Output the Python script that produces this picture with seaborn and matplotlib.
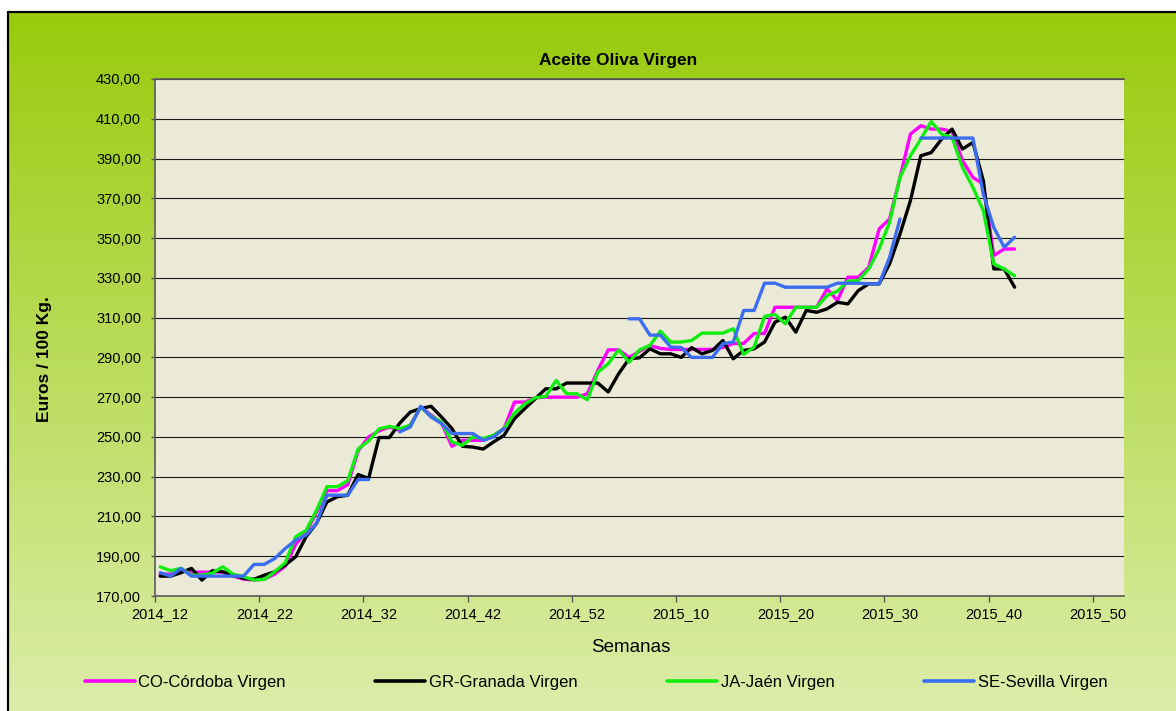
import numpy as np
import pandas as pd
import seaborn as sns
import matplotlib.pyplot as plt
from matplotlib.lines import Line2D

# --- datos ---
# semanas del eje de categorias: 2014_12 ... 2015_52
SEMANAS = [f"2014_{s}" for s in range(12, 53)] + [f"2015_{s:02d}" for s in range(1, 53)]
ETIQUETAS = ["2014_12", "2014_22", "2014_32", "2014_42", "2014_52",
             "2015_10", "2015_20", "2015_30", "2015_40", "2015_50"]

NOMBRES = ["CO-Córdoba Virgen", "GR-Granada Virgen", "JA-Jaén Virgen", "SE-Sevilla Virgen"]
COLORES = ["#FF00FF", "#000000", "#10EE10", "#3A6DF0"]

nan = np.nan

cordoba = [181, 181, 183, 182, 182, 182, 182, 180, 178.5, 178,
           178.5, 181, 185, 196, 202, 212, 223, 223, 226, 243,
           250, 253, 255, 253.3, 256, 265, 261, 257, 245.3, 248.3,
           248.3, 248.3, 250.8, 254.2, 267.5, 267.5, 269.7, 270, 270, 270,
           270, 271.7, 283.5, 293.8, 293.8, 290, 293, 296, 294.5, 294,
           294, 294, 294, 294, 295, 297, 297, 302, 302, 315.2,
           315.2, 315.2, 315.2, 315.2, 324.5, 318.6, 330.3, 330.3, 335.3, 354.6,
           359.6, 380.5, 402.3, 406.5, 404.8, 404.8, 403.6, 388.9, 380.5, 377.2,
           341.2, 344.5, 344.5]

granada = [180, 180, 181.7, 183.9, 178, 182.7, 182.2, 180.5, 178.9, 178.4,
           180.5, 182.2, 185.6, 189.7, 199.8, 206.5, 217.3, 219.9, 220.7, 231.1,
           229.1, 249.7, 249.7, 257, 262.5, 264.3, 265.4, 260, 254.2, 245.3,
           244.9, 243.9, 247.5, 250.8, 259.2, 264.3, 269.2, 274.2, 274.2, 277.1,
           277.1, 277.1, 277.1, 272.6, 281.8, 289.3, 289.8, 294.3, 291.8, 291.8,
           290, 294.9, 291.8, 293.5, 298.5, 289.3, 293.5, 294.3, 297.7, 307.7,
           310.2, 302.7, 313.6, 312.7, 314.4, 317.7, 316.9, 323.6, 327, 327,
           337, 352, 368.8, 391.4, 393, 399.8, 404.8, 394.8, 398.1, 378.8,
           334.5, 334.5, 325.3]

jaen = [184.7, 182.7, 183.9, 180.5, 180.5, 181.5, 184.7, 181, 179.7, 178,
        178.4, 182.2, 186.7, 199.8, 203, 213, 225, 225, 228, 244,
        248, 254, 255.3, 254.2, 255.8, 265, 260.4, 257.5, 247.5, 245.8,
        250, 249.2, 250.8, 254.2, 262, 266.7, 269.7, 270.4, 278.4, 271.7,
        271.7, 268.7, 282.6, 286.8, 293.8, 287.6, 293.8, 296, 303.2, 297.7,
        297.7, 298.5, 302.2, 302.2, 302.2, 304.4, 291.5, 295.2, 310.6, 311.6,
        306.9, 315.2, 315.2, 315.2, 321.1, 323.3, 328.3, 328.6, 334.5, 344.5,
        357.9, 380.5, 391.4, 399.8, 408.6, 402.3, 400.6, 385.5, 375.5, 363.8,
        337, 334.5, 331]

sevilla = [181.7, 180, 183.9, 180, 180, 180, 180, 180, 180, 185.9,
           185.9, 188.9, 193.9, 198.1, 200.6, 206.5, 220.7, 220.7, 220.7, 228.6,
           228.6, nan, nan, 252.5, 255, 265.4, 260, 256.7, 251.7, 251.7,
           251.7, 248.3, 250, 254.2, nan, nan, nan, nan, nan, nan,
           nan, nan, nan, nan, nan, 309.4, 309.4, 301.2, 301.2, 295.2,
           295, 290, 290, 290, 296.9, 297.7, 313.6, 313.6, 327.3, 327.3,
           325.3, 325.3, 325.3, 325.3, 325.3, 327.3, 327.3, 327.3, 327, 327,
           340.3, 359.6, nan, 400.3, 400.3, 400.3, 400.3, 400.3, 400.3, 372,
           355.4, 345.4, 350.4]

# --- tabla larga, cortando las series donde faltan semanas ---
filas = []
for nombre, valores in zip(NOMBRES, [cordoba, granada, jaen, sevilla]):
    tramo = 0
    for i, v in enumerate(valores):
        if np.isnan(v):
            tramo += 1
            continue
        filas.append({"pos": i, "semana": SEMANAS[i], "valor": v, "serie": nombre, "tramo": tramo})
df = pd.DataFrame(filas)

# --- figura ---
sns.set_theme(style="white")
plt.rcParams['font.family'] = ['Liberation Sans', 'DejaVu Sans']
plt.rcParams['text.color'] = 'black'
plt.rcParams['xtick.color'] = 'black'
plt.rcParams['ytick.color'] = 'black'

W, H = 1176, 711
fig = plt.figure(figsize=(W / 100, H / 100), dpi=100)
fig.patch.set_facecolor("white")

# fondo degradado verde del area del grafico
bg = fig.add_axes([8 / W, 0, 1, 1 - 12 / H])
arriba = np.array([0x98, 0xCB, 0x0C]) / 255
abajo = np.array([0xDC, 0xED, 0xA9]) / 255
t = np.linspace(0, 1, 256)[:, None, None]
degradado = arriba * (1 - t) + abajo * t
bg.imshow(degradado, aspect="auto", extent=[0, 1, 0, 1])
bg.set_axis_off()
fig.add_artist(Line2D([8 / W, 8 / W], [0, 1 - 12 / H], color="black", lw=1.6, transform=fig.transFigure))
fig.add_artist(Line2D([8 / W, 1], [1 - 12 / H, 1 - 12 / H], color="black", lw=1.6, transform=fig.transFigure))

ax = fig.add_axes([155 / W, (H - 596) / H, (1124 - 155) / W, (596 - 79) / H])
ax.set_facecolor("#EAEAD6")

sns.lineplot(data=df, x="pos", y="valor", hue="serie", units="tramo", estimator=None,
             hue_order=NOMBRES, palette=COLORES, linewidth=2.4, legend=False, ax=ax)

# eje Y
yticks = list(range(170, 431, 20))
ax.set_ylim(170, 430)
ax.set_yticks(yticks)
ax.set_yticklabels([f"{v},00" for v in yticks], fontsize=10.5, color="black")
ax.yaxis.grid(True, color="#1a1a1a", lw=0.8)
ax.set_axisbelow(True)
ax.tick_params(axis="y", left=True, length=3, width=1, color="#555555", pad=7)

# eje X: marcas entre categorias, etiquetas centradas cada 10 semanas
ax.set_xlim(-0.5, len(SEMANAS) - 0.5)
ax.set_xticks(np.arange(-0.5, 90, 10))
ax.set_xticklabels([])
ax.set_xticks([SEMANAS.index(e) for e in ETIQUETAS], minor=True)
ax.set_xticklabels(ETIQUETAS, minor=True, fontsize=10.5, color="black")
ax.tick_params(axis="x", which="major", bottom=True, length=4, width=1, color="#555555")
ax.tick_params(axis="x", which="minor", bottom=True, length=0, pad=8)
ax.set_xlabel("")
ax.set_ylabel("")

for lado in ["left", "bottom", "top"]:
    ax.spines[lado].set_color("#5a5a5a")
    ax.spines[lado].set_linewidth(1.2)
ax.spines["right"].set_visible(False)

# textos
fig.text(618 / W, 1 - 60 / H, "Aceite Oliva Virgen", ha="center", va="center",
         fontsize=12.5, fontweight="bold", color="black")
fig.text(45 / W, 1 - 359 / H, "Euros / 100 Kg.", ha="center", va="center",
         rotation=90, fontsize=12.5, fontweight="bold", color="black")
fig.text(631 / W, 1 - 648 / H, "Semanas", ha="center", va="center", fontsize=13.5, color="black")

# leyenda
manejadores = [Line2D([0], [0], color=c, lw=2.6) for c in COLORES]
fig.legend(manejadores, NOMBRES, loc="center", bbox_to_anchor=(596 / W, 1 - 682 / H),
           ncol=4, frameon=False, fontsize=12, handlelength=3.0, handletextpad=0.2,
           columnspacing=5.4, borderpad=0, labelcolor="black")

fig.savefig("out.png", dpi=100)
